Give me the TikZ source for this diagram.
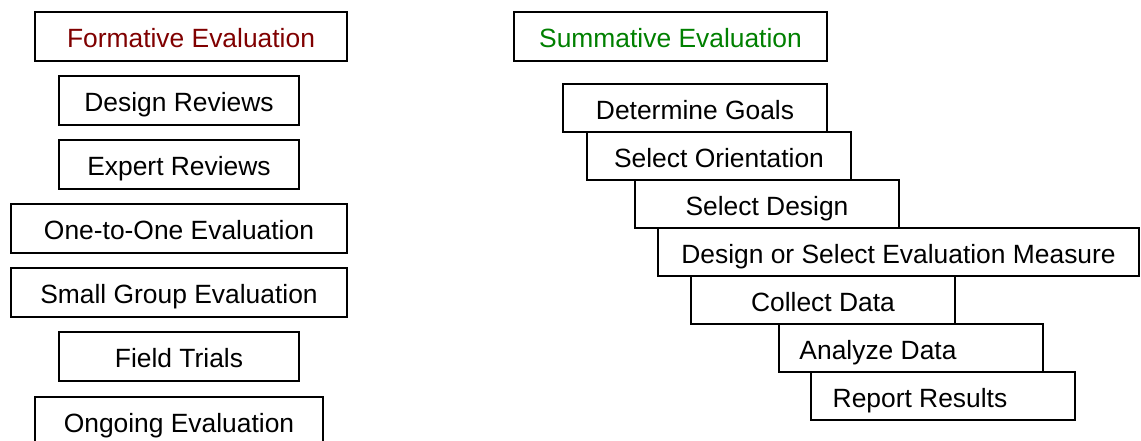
\documentclass[tikz,border=0pt]{standalone}
\usepackage{fontspec}
\setmainfont{Liberation Sans}
\definecolor{formred}{RGB}{128,0,0}
\definecolor{sumgreen}{RGB}{0,128,0}
\tikzset{
  box/.style={draw=black, line width=1.2pt, fill=white, inner sep=0pt,
    minimum height=49pt, text height=22pt, text depth=0pt,
    font=\fontsize{26.4}{30}\selectfont},
  stepbox/.style={box, minimum width=264pt, minimum height=48pt}
}
\begin{document}
\begin{tikzpicture}[x=1pt,y=-1pt]
  \useasboundingbox (0,0) rectangle (1141,440);
  \clip (0,0) rectangle (1141,440);

  % Formative evaluation column
  \node[box, minimum width=312pt, text=formred] (form) at (191,36.5) {Formative Evaluation};
  \node[box, minimum width=240pt] (dr)  at (179,100.5) {Design Reviews};
  \node[box, minimum width=240pt] (er)  at (179,164.5) {Expert Reviews};
  \node[box, minimum width=336pt] (oto) at (179,228.5) {One-to-One Evaluation};
  \node[box, minimum width=336pt] (sg)  at (179,292.5) {Small Group Evaluation};
  \node[box, minimum width=240pt] (ft)  at (179,356.5) {Field Trials};
  \node[box, minimum width=288pt] (og)  at (179,421.5) {Ongoing Evaluation};

  % Summative evaluation: staircase of steps
  \node[box, minimum width=313pt, text=sumgreen] (sum) at (670.5,36.5) {Summative Evaluation};
  \node[stepbox] (dg) at (695,108) {Determine Goals};
  \node[stepbox] (so) at (719,156) {Select Orientation};
  \node[stepbox] (sd) at (767,204) {Select Design};
  \node[stepbox, minimum width=481pt] (dm) at (898.5,252) {Design or Select Evaluation Measure};
  \node[stepbox] (cd) at (823,300) {Collect Data};
  % these two labels sit left of the box centre
  \node[stepbox] (ad) at (911,348) {Analyze Data\kern66pt};
  \node[stepbox] (rr) at (943,396) {Report Results\kern46pt};
\end{tikzpicture}
\end{document}
